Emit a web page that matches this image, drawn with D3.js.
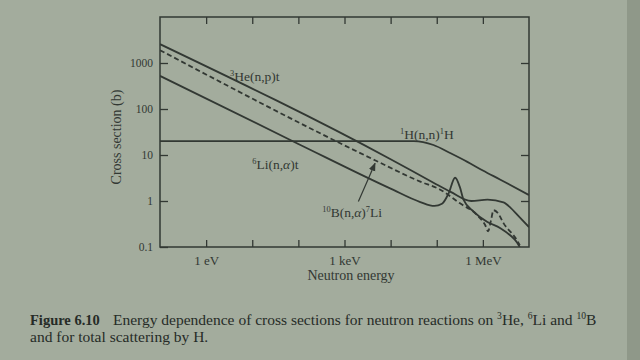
<!DOCTYPE html>
<html>
<head>
<meta charset="utf-8">
<script src="https://cdn.jsdelivr.net/npm/d3@7"></script>
<style>
body { margin: 0; background: #a3ac9d; }
svg { display: block; font-family: "Liberation Serif", "Times New Roman", serif; }
</style>
</head>
<body>
<div id="plot"></div>
<script>
// energies in eV, cross sections in barns
var hEnergy  = [0.1, 3.2e4, 8.5e4, 2e5, 4.6e5, 1e6, 2.4e6, 1e7];
var hSigma   = [20, 20, 16.5, 10.9, 7.1, 4.6, 2.9, 1.35];

var heEnergy = [0.1, 1e4, 8.5e4, 2e5, 5.6e5, 1.26e6, 2.8e6, 4e6, 5.6e6, 1e7];
var heSigma  = [2570, 8.1, 2.5, 1.58, 1.0, 1.07, 0.93, 0.71, 0.5, 0.27];

var liEnergy = [0.1, 100, 1e4, 4.4e4, 8.9e4, 1.3e5, 1.8e5, 2.5e5, 3.2e5, 3.8e5, 6.3e5, 1.23e6, 2.4e6, 3.9e6, 5.5e6, 6.3e6];
var liSigma  = [525, 17.4, 1.86, 0.95, 0.78, 0.87, 1.45, 3.2, 1.95, 1.07, 0.59, 0.355, 0.257, 0.18, 0.126, 0.1];

var bEnergy  = [0.1, 4.7e3, 4.4e4, 1.17e5, 3.2e5, 7.4e5, 1.12e6, 1.3e6, 1.5e6, 1.7e6, 2.1e6, 2.8e6, 5.5e6, 6.3e6];
var bSigma   = [1900, 7.6, 2.63, 1.78, 0.89, 0.5, 0.3, 0.22, 0.38, 0.63, 0.55, 0.33, 0.14, 0.11];

var yTicks = [0.1, 1, 10, 100, 1000];
var xTicks = [1, 10, 100, 1e3, 1e4, 1e5, 1e6];
var xTickNames = {1: "1 eV", 1000: "1 keV", 1000000: "1 MeV"};

plotChart();

function plotChart() {
    var series = [
        {name: "H", energy: hEnergy, sigma: hSigma, dashed: false},
        {name: "He", energy: heEnergy, sigma: heSigma, dashed: false},
        {name: "Li", energy: liEnergy, sigma: liSigma, dashed: false},
        {name: "B", energy: bEnergy, sigma: bSigma, dashed: true}
    ];

    var ink = "#323833";
    var width = 640, height = 360;
    var x0 = 160, x1 = 529, y0 = 17, y1 = 247;

    var svg = d3.select("#plot").append("svg").attr("width", width).attr("height", height);

    svg.append("rect").attr("width", width).attr("height", height).attr("fill", "#a3ac9d");
    svg.append("rect").attr("x", 627).attr("width", 13).attr("height", height).attr("fill", "#8f9889");

    var xScale = d3.scaleLog().domain([0.1, 1e7]).range([x0, x1]);
    var yScale = d3.scaleLog().domain([0.1, 1e4]).range([y1, y0]);

    // frame
    svg.append("rect")
        .attr("x", x0).attr("y", y0)
        .attr("width", x1 - x0).attr("height", y1 - y0)
        .attr("fill", "none").attr("stroke", ink).attr("stroke-width", 1.5);

    var gx = svg.append("g")
        .attr("transform", "translate(0," + y1 + ")")
        .call(d3.axisBottom(xScale).tickValues(xTicks).tickSizeInner(-7).tickSizeOuter(0).tickPadding(9)
            .tickFormat(function(d) { return xTickNames[d] || ""; }));
    svg.append("g")
        .attr("transform", "translate(0," + y0 + ")")
        .call(d3.axisTop(xScale).tickValues(xTicks).tickSizeInner(-7).tickSizeOuter(0).tickFormat(""));
    var gy = svg.append("g")
        .attr("transform", "translate(" + x0 + ",0)")
        .call(d3.axisLeft(yScale).tickValues(yTicks).tickSizeInner(-8).tickSizeOuter(0).tickPadding(7)
            .tickFormat(function(d) { return d < 1 ? "0.1" : String(d); }));
    svg.append("g")
        .attr("transform", "translate(" + x1 + ",0)")
        .call(d3.axisRight(yScale).tickValues(yTicks.slice(1)).tickSizeInner(-8).tickSizeOuter(0).tickFormat(""));

    svg.selectAll(".domain").remove();
    svg.selectAll(".tick line").attr("stroke", ink).attr("stroke-width", 1.3);
    svg.selectAll(".tick text").attr("fill", ink).attr("font-family", "Liberation Serif, serif");
    gx.selectAll(".tick text").attr("font-size", 13);
    gy.selectAll(".tick text").attr("font-size", 11.5);

    // curves
    var line = d3.line()
        .x(function(d) { return xScale(d[0]); })
        .y(function(d) { return yScale(d[1]); })
        .curve(d3.curveMonotoneX);

    var defs = svg.append("defs");
    defs.append("clipPath").attr("id", "clip")
        .append("rect").attr("x", x0).attr("y", y0).attr("width", x1 - x0).attr("height", y1 - y0);

    svg.append("g").attr("clip-path", "url(#clip)")
        .selectAll("path")
        .data(series)
        .enter()
        .append("path")
        .attr("d", function(s) { return line(d3.zip(s.energy, s.sigma)); })
        .attr("fill", "none")
        .attr("stroke", ink)
        .attr("stroke-width", 1.8)
        .attr("stroke-dasharray", function(s) { return s.dashed ? "5,3" : null; });

    // curve labels: parts are [text, superscript, italic]
    var labels = [
        {e: 3.3, s: 400, parts: [["3", true], ["He(n,p)t", false]]},
        {e: 1.6e4, s: 22, parts: [["1", true], ["H(n,n)", false], ["1", true], ["H", false]]},
        {e: 10, s: 4.9, parts: [["6", true], ["Li(n,", false], ["\u03b1", false, true], [")t", false]]},
        {e: 330, s: 0.44, parts: [["10", true], ["B(n,", false], ["\u03b1", false, true], [")", false], ["7", true], ["Li", false]]}
    ];

    labels.forEach(function(l) {
        var t = svg.append("text")
            .attr("x", xScale(l.e))
            .attr("y", yScale(l.s))
            .attr("fill", ink);
        richText(t, l.parts, 13.5);
    });

    // arrow to the dashed 10B curve
    defs.append("marker")
        .attr("id", "head").attr("viewBox", "0 0 10 10")
        .attr("refX", 9).attr("refY", 5)
        .attr("markerWidth", 7).attr("markerHeight", 7)
        .attr("orient", "auto")
        .append("path").attr("d", "M0,1L10,5L0,9Z").attr("fill", ink);

    svg.append("line")
        .attr("x1", xScale(2000)).attr("y1", yScale(0.97))
        .attr("x2", xScale(4600)).attr("y2", yScale(6.6))
        .attr("stroke", ink).attr("stroke-width", 1.2)
        .attr("marker-end", "url(#head)");

    // axis titles
    svg.append("text")
        .attr("x", 351).attr("y", 280)
        .attr("text-anchor", "middle").attr("font-size", 14).attr("fill", ink)
        .text("Neutron energy");
    svg.append("text")
        .attr("transform", "translate(121,137) rotate(-90)")
        .attr("text-anchor", "middle").attr("font-size", 14).attr("fill", ink)
        .text("Cross section (b)");

    // caption
    svg.append("text").attr("x", 30).attr("y", 325).attr("font-size", 14.5).attr("fill", "#262b27")
        .attr("font-weight", "bold").text("Figure 6.10");
    var cap = svg.append("text").attr("x", 113).attr("y", 325).attr("font-size", 15.5).attr("fill", "#262b27");
    richText(cap, [["Energy dependence of cross sections for neutron reactions on ", false], ["3", true], ["He, ", false],
        ["6", true], ["Li and ", false], ["10", true], ["B", false]], 15.5);

    svg.append("text").attr("x", 30).attr("y", 342).attr("font-size", 15.5).attr("fill", "#262b27")
        .text("and for total scattering by H.");
}

function richText(sel, parts, size) {
    var shift = 0;
    parts.forEach(function(p) {
        var dy = p[1] ? -size * 0.38 - shift : -shift;
        shift = p[1] ? -size * 0.38 : 0;
        sel.append("tspan")
            .attr("dy", dy)
            .attr("font-size", p[1] ? size * 0.62 : size)
            .attr("font-style", p[2] ? "italic" : null)
            .text(p[0]);
    });
}
</script>
</body>
</html>
